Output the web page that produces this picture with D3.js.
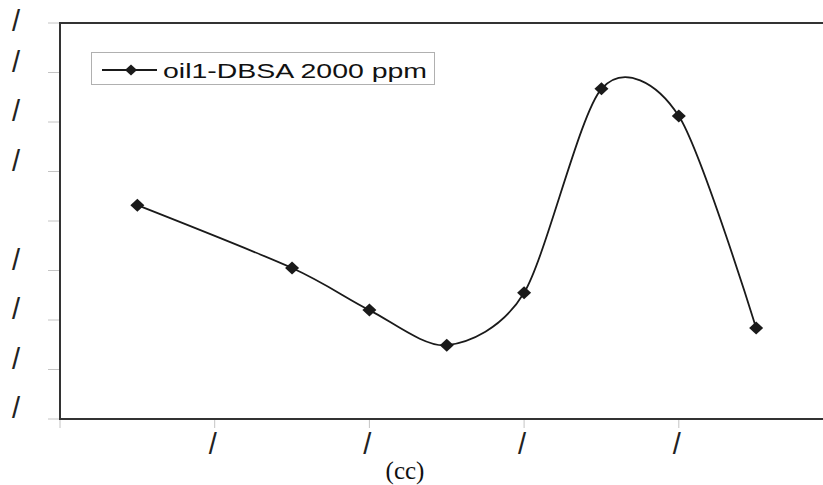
<!DOCTYPE html>
<html>
<head>
<meta charset="utf-8">
<script src="https://cdn.jsdelivr.net/npm/d3@7/dist/d3.min.js"></script>
<style>
  html, body { margin: 0; padding: 0; background: #fff; }
  svg { display: block; }
</style>
</head>
<body>
<svg id="chart" width="823" height="485"></svg>
<script>
// ---- data ----
const xValues = [0.5, 1.5, 2, 2.5, 3, 3.5, 4, 4.5];
const yValues = [4.32, 3.05, 2.20, 1.49, 2.55, 6.67, 6.12, 1.84];
const seriesName = "oil1-DBSA 2000 ppm";
const xTicks = [0, 1, 2, 3, 4, 5];
const xTickLabels = ["", "/", "/", "/", "/", ""];
const yTicks = [0, 1, 2, 3, 4, 5, 6, 7, 8];
const yTickLabels = ["/", "/", "/", "/", "", "/", "/", "/", "/"];
const xAxisTitle = "(cc)";

(function () {
// ---- layout ----
const svg = d3.select("#chart");
const pLeft = 60, pRight = 833.5, pTop = 23, pBottom = 419;
const x = d3.scaleLinear().domain([0, 5]).range([pLeft, pRight]);
const y = d3.scaleLinear().domain([0, 8]).range([pBottom, pTop]);

// tick marks (light gray)
svg.append("g")
  .selectAll("line").data(yTicks).enter().append("line")
  .attr("x1", pLeft - 12).attr("x2", pLeft)
  .attr("y1", d => y(d)).attr("y2", d => y(d))
  .attr("stroke", "#c4c4c4").attr("stroke-width", 1);
svg.append("g")
  .selectAll("line").data(xTicks).enter().append("line")
  .attr("x1", d => x(d)).attr("x2", d => x(d))
  .attr("y1", pBottom).attr("y2", pBottom + 9)
  .attr("stroke", "#c4c4c4").attr("stroke-width", 1);

// frame
svg.append("rect")
  .attr("x", pLeft).attr("y", pTop)
  .attr("width", pRight - pLeft).attr("height", pBottom - pTop)
  .attr("fill", "none").attr("stroke", "#333").attr("stroke-width", 2);

// y tick labels
svg.append("g")
  .selectAll("text").data(yTicks).enter().append("text")
  .attr("x", 16)
  .attr("y", d => Math.max(y(d) - 11, 21) + 10)
  .attr("text-anchor", "middle")
  .attr("font-family", "Liberation Sans, Arial, sans-serif")
  .attr("font-size", 29)
  .attr("fill", "#222")
  .text((d, i) => yTickLabels[i]);

// x tick labels
svg.append("g")
  .selectAll("text").data(xTicks).enter().append("text")
  .attr("x", d => x(d) - 2)
  .attr("y", pBottom + 35)
  .attr("text-anchor", "middle")
  .attr("font-family", "Liberation Sans, Arial, sans-serif")
  .attr("font-size", 29)
  .attr("fill", "#222")
  .text((d, i) => xTickLabels[i]);

// x axis title
svg.append("text")
  .attr("x", 405).attr("y", 479)
  .attr("text-anchor", "middle")
  .attr("font-family", "Liberation Serif, Times New Roman, serif")
  .attr("font-size", 25)
  .attr("fill", "#111")
  .text(xAxisTitle);

// series line
const pts = xValues.map((v, i) => [v, yValues[i]]);
const line = d3.line()
  .x(d => x(d[0])).y(d => y(d[1]))
  .curve(d3.curveCardinal.tension(0.15));
svg.append("path")
  .datum(pts)
  .attr("d", line)
  .attr("fill", "none")
  .attr("stroke", "#1a1a1a")
  .attr("stroke-width", 1.8);

const diamond = (w, h) => `M0,${-h}L${w},0L0,${h}L${-w},0Z`;
svg.append("g")
  .selectAll("path").data(pts).enter().append("path")
  .attr("transform", d => `translate(${x(d[0])},${y(d[1])})`)
  .attr("d", diamond(7, 6.5))
  .attr("fill", "#1a1a1a");

// legend
const lg = svg.append("g");
lg.append("rect")
  .attr("x", 91.5).attr("y", 52.5).attr("width", 343).attr("height", 32)
  .attr("fill", "#fff").attr("stroke", "#b0b0b0").attr("stroke-width", 1);
lg.append("line")
  .attr("x1", 102).attr("x2", 157).attr("y1", 70).attr("y2", 70)
  .attr("stroke", "#1a1a1a").attr("stroke-width", 1.8);
lg.append("path")
  .attr("transform", "translate(131,70)")
  .attr("d", diamond(6, 5.5))
  .attr("fill", "#1a1a1a");
lg.append("text")
  .attr("x", 163).attr("y", 78)
  .attr("font-family", "Liberation Sans, Arial, sans-serif")
  .attr("font-size", 21)
  .attr("fill", "#111")
  .attr("textLength", 264)
  .attr("lengthAdjust", "spacingAndGlyphs")
  .text(seriesName);
})();
</script>
</body>
</html>
